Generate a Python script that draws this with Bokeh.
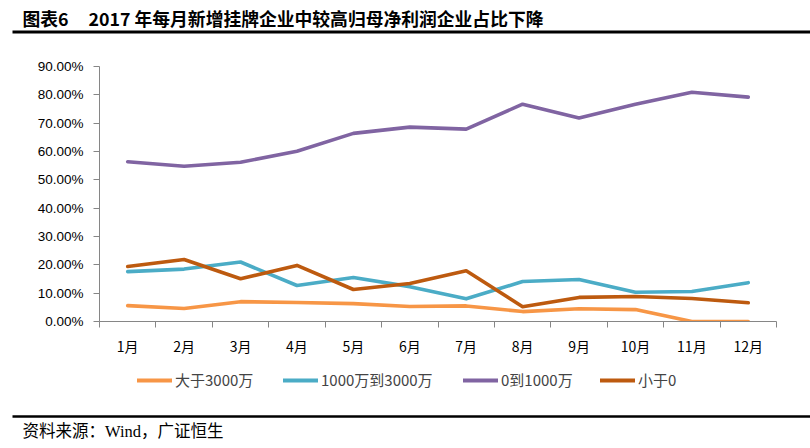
from bokeh.plotting import figure
from bokeh.layouts import column
from bokeh.models import (FixedTicker, NumeralTickFormatter, Range1d,
                          Legend, LegendItem, ColumnDataSource)
from bokeh.core.properties import value
from bokeh.embed import file_html
from bokeh.resources import INLINE

months = ["1月", "2月", "3月", "4月", "5月", "6月", "7月", "8月", "9月", "10月", "11月", "12月"]
gt3000 = [5.6, 4.6, 7.0, 6.7, 6.3, 5.3, 5.5, 3.5, 4.5, 4.2, 0.0, 0.0]
mid1000_3000 = [17.6, 18.5, 21.0, 12.7, 15.5, 12.3, 8.0, 14.1, 14.8, 10.3, 10.6, 13.7]
zero_1000 = [56.4, 54.8, 56.2, 60.1, 66.4, 68.6, 67.9, 76.7, 71.8, 76.7, 80.9, 79.2]
lt0 = [19.4, 21.9, 15.1, 19.8, 11.3, 13.4, 17.9, 5.2, 8.5, 8.8, 8.1, 6.6]
y_ticks = [0, 10, 20, 30, 40, 50, 60, 70, 80, 90]

series_names = ["大于3000万", "1000万到3000万", "0到1000万", "小于0"]
series_values = [gt3000, mid1000_3000, zero_1000, lt0]
series_colors = ["#F79646", "#4BACC6", "#8064A2", "#BD5A0F"]

title_label = "图表6"
title_text = "2017 年每月新增挂牌企业中较高归母净利润企业占比下降"
source_text = "资料来源：Wind，广证恒生"

W = 810
TOP_H, MAIN_H, BOT_H = 50, 310, 88


def blank_fig(h, y0):
    f = figure(width=W, height=h, output_backend="svg", toolbar_location=None,
               x_range=Range1d(0, W), y_range=Range1d(y0 + h, y0),
               min_border=0, min_border_left=0, min_border_right=0,
               min_border_top=0, min_border_bottom=0, frame_align=False)
    f.axis.visible = False
    f.grid.visible = False
    f.outline_line_color = None
    return f


# ---- title strip ----
top = blank_fig(TOP_H, 0)
top.text(x=[22], y=[17], text=[title_label], text_font=value("Noto Sans CJK SC"),
         text_font_style="bold", text_font_size="17.8px", text_baseline="middle",
         text_align="left", text_color="#000000")
top.text(x=[88], y=[17], text=[title_text], text_font=value("Noto Sans CJK SC"),
         text_font_style="bold", text_font_size="17.8px", text_baseline="middle",
         text_align="left", text_color="#000000")
top.segment(x0=[12], y0=[31.5], x1=[W], y1=[31.5], line_color="#000000", line_width=3)

# ---- main chart ----
FL, FR, FT, FB = 99, 776, 66, 321
p = figure(width=W, height=MAIN_H, output_backend="svg", toolbar_location=None,
           x_range=Range1d(0.5, len(months) + 0.5), y_range=Range1d(0, 0.9),
           min_border_left=FL, min_border_right=W - FR,
           min_border_top=FT - TOP_H, min_border_bottom=TOP_H + MAIN_H - FB,
           frame_align=False)
p.outline_line_color = None
p.xgrid.grid_line_color = None
p.ygrid.grid_line_color = None

xs = list(range(1, len(months) + 1))
for name, vals, color in zip(series_names, series_values, series_colors):
    src = ColumnDataSource(dict(x=xs, y=[v / 100 for v in vals]))
    p.line("x", "y", source=src, line_color=color, line_width=3.6,
           line_cap="round", line_join="round")

axis_color = "#868686"
xa = p.xaxis[0]
xa.ticker = FixedTicker(ticks=xs, minor_ticks=[x - 0.5 for x in xs] + [len(xs) + 0.5])
xa.major_label_overrides = {i + 1: m for i, m in enumerate(months)}
xa.axis_line_color = axis_color
xa.major_tick_line_color = None
xa.major_tick_in = 0
xa.major_tick_out = 0
xa.minor_tick_line_color = axis_color
xa.minor_tick_in = 0
xa.minor_tick_out = 6
xa.major_label_standoff = 8
xa.major_label_text_font = "Noto Sans CJK SC"
xa.major_label_text_font_size = "14px"
xa.major_label_text_color = "#000000"

ya = p.yaxis[0]
ya.ticker = FixedTicker(ticks=[t / 100 for t in y_ticks])
ya.formatter = NumeralTickFormatter(format="0.00%")
ya.axis_line_color = axis_color
ya.major_tick_line_color = axis_color
ya.major_tick_in = 0
ya.major_tick_out = 6
ya.minor_tick_line_color = None
ya.major_label_standoff = 10
ya.major_label_text_font = "Liberation Sans"
ya.major_label_text_font_size = "13.5px"
ya.major_label_text_color = "#000000"

# ---- legend + source strip ----
bot = blank_fig(BOT_H, TOP_H + MAIN_H)
leg_x = [137, 283, 463, 600]
leg_y = 448 - 390
nan = float("nan")
for name, color, lx in zip(series_names, series_colors, leg_x):
    r = bot.line(x=[nan, nan], y=[nan, nan], line_color=color, line_width=4, line_cap="round")
    lg = Legend(items=[LegendItem(label=name, renderers=[r])], location=(lx, leg_y),
                orientation="horizontal", padding=0, margin=0, spacing=0,
                glyph_width=35, glyph_height=20, label_height=20, label_standoff=3,
                label_text_font="Noto Sans CJK SC", label_text_font_size="15px",
                background_fill_alpha=0, border_line_color=None)
    bot.add_layout(lg, "center")

bot.segment(x0=[12], y0=[416], x1=[W], y1=[416], line_color="#000000", line_width=2.5)
bot.text(x=[22], y=[431], text=[source_text],
         text_font=value("Liberation Serif, Noto Sans CJK SC"), text_font_size="16.5px",
         text_baseline="middle", text_align="left", text_color="#000000")

layout = column(top, p, bot, spacing=0)
open("out.html", "w").write(file_html(layout, INLINE))
